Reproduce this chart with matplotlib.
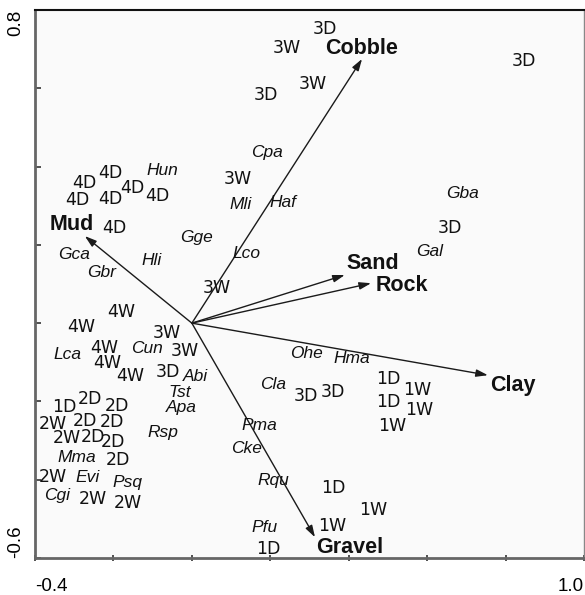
import matplotlib
matplotlib.use("Agg")
import matplotlib.pyplot as plt

# ---- Sample (site) scores ----
site_labels = ["3W", "3D", "3D", "3W", "3D", "3W", "4D", "4D", "4D", "4D", "4D", "4D", "4D",
               "3D", "3W", "4W", "4W", "3W", "4W", "3W", "4W", "4W", "3D",
               "1D", "2D", "2D", "2W", "2D", "2D", "2W", "2D", "2D", "2D", "2W", "2W", "2W",
               "1D", "1D", "1W", "3D", "3D", "1D", "1W", "1W", "1D", "1W", "1W"]
site_x = [0.242, 0.189, 0.339, 0.309, 0.847, 0.117, -0.209, -0.273, -0.151, -0.087, -0.293, -0.209, -0.199,
          0.658, 0.064, -0.179, -0.281, -0.064, -0.224, -0.018, -0.217, -0.158, -0.061,
          -0.324, -0.260, -0.191, -0.355, -0.273, -0.204, -0.319, -0.253, -0.202, -0.189, -0.355, -0.253, -0.163,
          0.194, 0.500, 0.574, 0.291, 0.360, 0.500, 0.579, 0.510, 0.360, 0.462, 0.357]
site_y = [0.703, 0.583, 0.752, 0.611, 0.670, 0.368, 0.384, 0.358, 0.345, 0.325, 0.315, 0.317, 0.243,
          0.243, 0.090, 0.028, -0.010, -0.026, -0.064, -0.072, -0.102, -0.136, -0.125,
          -0.215, -0.194, -0.212, -0.258, -0.251, -0.253, -0.294, -0.292, -0.304, -0.350, -0.394, -0.448, -0.460,
          -0.578, -0.143, -0.171, -0.187, -0.176, -0.202, -0.223, -0.263, -0.422, -0.478, -0.517]

# ---- Species scores ----
species = ["Cpa", "Hun", "Mli", "Haf", "Gge", "Gca", "Lco", "Hli", "Gbr", "Gba", "Gal", "Lca", "Cun", "Abi",
           "Tst", "Apa", "Rsp", "Cla", "Pma", "Cke", "Mma", "Evi", "Psq", "Cgi", "Rqu", "Pfu", "Ohe", "Hma"]
species_x = [0.191, -0.074, 0.125, 0.232, 0.013, -0.301, 0.140, -0.102, -0.230, 0.691, 0.607, -0.316, -0.115, 0.008,
             -0.031, -0.026, -0.074, 0.207, 0.173, 0.140, -0.293, -0.265, -0.163, -0.344, 0.207, 0.186, 0.293, 0.408]
species_y = [0.435, 0.389, 0.302, 0.309, 0.220, 0.176, 0.179, 0.159, 0.130, 0.332, 0.184, -0.079, -0.066, -0.136,
             -0.176, -0.215, -0.279, -0.156, -0.261, -0.320, -0.343, -0.394, -0.407, -0.440, -0.402, -0.522, -0.077, -0.090]

# ---- Environmental vectors ----
env_names = ["Cobble", "Mud", "Sand", "Rock", "Clay", "Gravel"]
env_x = [0.434, -0.273, 0.390, 0.457, 0.755, 0.314]
env_y = [0.675, 0.2225, 0.123, 0.102, -0.133, -0.547]
env_label_x = [0.434, -0.306, 0.462, 0.536, 0.819, 0.403]
env_label_y = [0.701, 0.253, 0.153, 0.095, -0.159, -0.573]

# ---- Axes ----
xticks = [-0.4, -0.2, 0.0, 0.2, 0.4, 0.6, 0.8, 1.0]
xticklabels = ["-0.4", "", "", "", "", "", "", "1.0"]
yticks = [-0.6, -0.4, -0.2, 0.0, 0.2, 0.4, 0.6, 0.8]
yticklabels = ["-0.6", "", "", "", "", "", "", "0.8"]

fig = plt.figure(figsize=(5.85, 5.95), dpi=100)
ax = fig.add_axes([35 / 585, 37 / 595, 549 / 585, 548 / 595])
ax.set_facecolor("#fafafa")
ax.set_xlim(-0.4, 1.0)
ax.set_ylim(-0.6, 0.8)

for name, x, y in zip(env_names, env_x, env_y):
    ax.annotate("", xy=(x, y), xytext=(0, 0),
                arrowprops=dict(arrowstyle="-|>,head_length=0.7,head_width=0.22",
                                color="#1a1a1a", lw=1.0, shrinkA=0, shrinkB=0))

for name, x, y in zip(env_names, env_label_x, env_label_y):
    ax.text(x, y, name, fontsize=15.5, fontweight="bold", family="Liberation Sans",
            ha="center", va="center", color="#111111")

for name, x, y in zip(species, species_x, species_y):
    ax.text(x, y, name, fontsize=12.5, fontstyle="italic", family="Liberation Sans",
            ha="center", va="center", color="#111111")

for name, x, y in zip(site_labels, site_x, site_y):
    ax.text(x, y, name, fontsize=12.5, family="DejaVu Sans",
            ha="center", va="center", color="#111111")

ax.set_xticks(xticks)
ax.set_xticklabels(xticklabels, fontsize=13.5, family="Liberation Sans")
ax.set_yticks(yticks)
ax.set_yticklabels(yticklabels, fontsize=13.5, family="Liberation Sans", rotation=90)
xl = ax.get_xticklabels()
xl[0].set_ha("left")
xl[-1].set_ha("right")
yl = ax.get_yticklabels()
yl[0].set_va("bottom")
yl[-1].set_va("top")
ax.tick_params(axis="x", direction="inout", length=5, width=1.2, color="#333333", pad=12)
ax.tick_params(axis="y", direction="in", length=4, width=1.2, color="#333333", pad=8)

for s in ["left", "bottom"]:
    ax.spines[s].set_color("#666666")
    ax.spines[s].set_linewidth(2)
ax.spines["top"].set_color("#111111")
ax.spines["top"].set_linewidth(1.5)
ax.spines["right"].set_color("#888888")
ax.spines["right"].set_linewidth(1)

fig.savefig("out.png", dpi=100, facecolor="white")
